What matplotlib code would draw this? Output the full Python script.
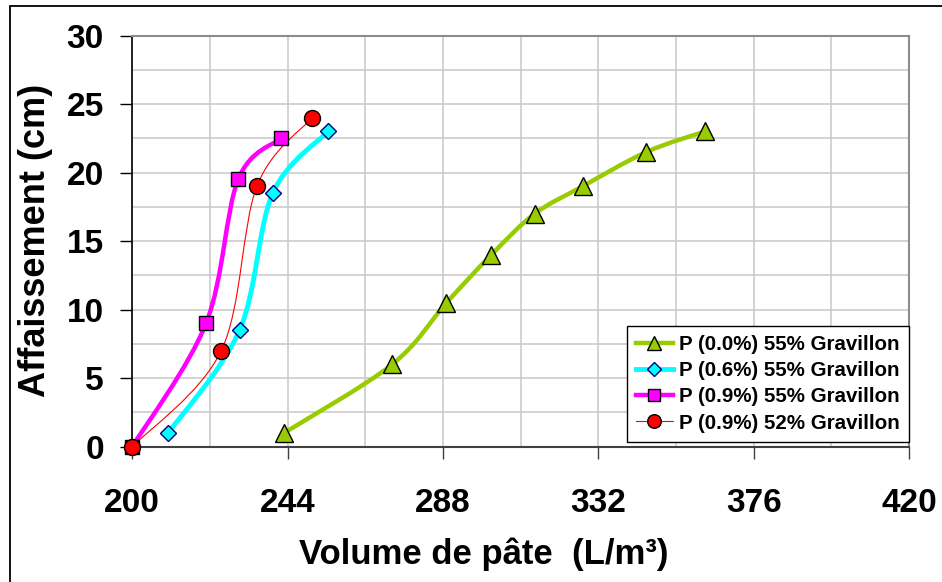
import matplotlib
matplotlib.use("Agg")
import matplotlib.pyplot as plt
from matplotlib.path import Path
from matplotlib.patches import PathPatch, Rectangle
from matplotlib.lines import Line2D
from matplotlib.ticker import MultipleLocator

plt.rcParams['font.family'] = ['Liberation Sans', 'DejaVu Sans']
plt.rcParams['font.weight'] = 'bold'

# values
vol_g0 = [243, 273.6, 289, 301.7, 314, 327.6, 345.6, 362.2]
aff_g0 = [1, 6, 10.5, 14, 17, 19, 21.5, 23]
vol_p06 = [210.2, 230.4, 239.8, 255.5]
aff_p06 = [1, 8.5, 18.5, 23]
vol_p09 = [200, 220.9, 230, 242.2]
aff_p09 = [0, 9, 19.5, 22.5]
vol_p09b = [200, 225.2, 235.3, 251]
aff_p09b = [0, 7, 19, 24]

labels = ["P (0.0%) 55% Gravillon", "P (0.6%) 55% Gravillon",
          "P (0.9%) 55% Gravillon", "P (0.9%) 52% Gravillon"]
x_ticks = [200, 244, 288, 332, 376, 420]
x_grid = [222, 266, 310, 354, 398]


def smooth_path(xs, ys):
	"""Excel-like smoothed line: cubic bezier segments through the points"""
	pts = list(zip(xs, ys))
	n = len(pts)
	verts = [pts[0]]
	codes = [Path.MOVETO]
	for i in range(n - 1):
		p0 = pts[max(i - 1, 0)]
		p1 = pts[i]
		p2 = pts[i + 1]
		p3 = pts[min(i + 2, n - 1)]
		c1 = (p1[0] + (p2[0] - p0[0]) / 6, p1[1] + (p2[1] - p0[1]) / 6)
		c2 = (p2[0] - (p3[0] - p1[0]) / 6, p2[1] - (p3[1] - p1[1]) / 6)
		verts += [c1, c2, p2]
		codes += [Path.CURVE4] * 3
	return Path(verts, codes)


series = [
	(vol_g0, aff_g0, dict(color='#99CC00', lw=3.2, marker='^', ms=12.5, mfc='#99CC00', mec='black')),
	(vol_p06, aff_p06, dict(color='#00FFFF', lw=3.5, marker='D', ms=8.5, mfc='#00FFFF', mec='#000080')),
	(vol_p09, aff_p09, dict(color='#FF00FF', lw=3.2, marker='s', ms=10.5, mfc='#FF00FF', mec='black')),
	(vol_p09b, aff_p09b, dict(color='#FF0000', lw=0.8, marker='o', ms=11.5, mfc='#FF0000', mec='black')),
]

fig = plt.figure(figsize=(9.42, 5.82), dpi=100)
ax = fig.add_axes([0.1404, 0.2325, 0.8246, 0.7065])

handles = []
for xs, ys, st in series:
	ax.add_patch(PathPatch(smooth_path(xs, ys), fill=False, edgecolor=st['color'],
		lw=st['lw'], zorder=2, capstyle='round', joinstyle='round'))
	ax.plot(xs, ys, linestyle='none', marker=st['marker'], ms=st['ms'],
		mfc=st['mfc'], mec=st['mec'], mew=1.0, zorder=3, clip_on=False)
	handles.append(Line2D([], [], color=st['color'], lw=st['lw'], marker=st['marker'],
		ms=st['ms'] * 0.85, mfc=st['mfc'], mec=st['mec'], mew=1.0))

ax.set_xlim(200, 420)
ax.set_ylim(0, 30)
ax.set_xticks(x_ticks)
ax.set_xticks(x_grid, minor=True)
ax.yaxis.set_major_locator(MultipleLocator(5))
ax.yaxis.set_minor_locator(MultipleLocator(2.5))
ax.grid(which='both', color='#C8C8C8', lw=1.1, zorder=0)
ax.set_axisbelow(True)

ax.tick_params(which='major', direction='out', length=8.5, width=1.0, labelsize=24)
ax.tick_params(which='minor', length=0)
ax.tick_params(axis='x', pad=21, colors='#404040', labelcolor='black')
ax.tick_params(axis='y', pad=12)
for lab in ax.get_xticklabels() + ax.get_yticklabels():
	lab.set_fontweight('bold')

ax.spines['left'].set_color('black')
ax.spines['left'].set_linewidth(1.2)
ax.spines['bottom'].set_color('#404040')
ax.spines['bottom'].set_linewidth(1.5)
for s in ('top', 'right'):
	ax.spines[s].set_color('#8C8C8C')
	ax.spines[s].set_linewidth(1.5)

ax.set_xlabel('Volume de pâte  (L/m³)', fontsize=25, fontweight='bold')
ax.xaxis.set_label_coords(0.452, -0.222)
ax.set_ylabel('Affaissement (cm)', fontsize=26, fontweight='bold')
ax.yaxis.set_label_coords(-0.102, 0.502)

leg = ax.legend(handles, labels, loc='lower right', bbox_to_anchor=(1.0, 0.012),
	prop={'size': 14.8, 'weight': 'bold'}, handlelength=1.8, handletextpad=0.3,
	labelspacing=0.35, borderpad=0.45, borderaxespad=0, fancybox=False,
	framealpha=1, edgecolor='black', numpoints=1)
leg.get_frame().set_linewidth(1.0)
leg.set_zorder(5)

fig.add_artist(Rectangle((10 / 942, -0.05), 1.1, 1 - 6 / 582 + 0.05, transform=fig.transFigure,
	fill=False, edgecolor='black', lw=1.3))

fig.savefig('out.png', dpi=100)
